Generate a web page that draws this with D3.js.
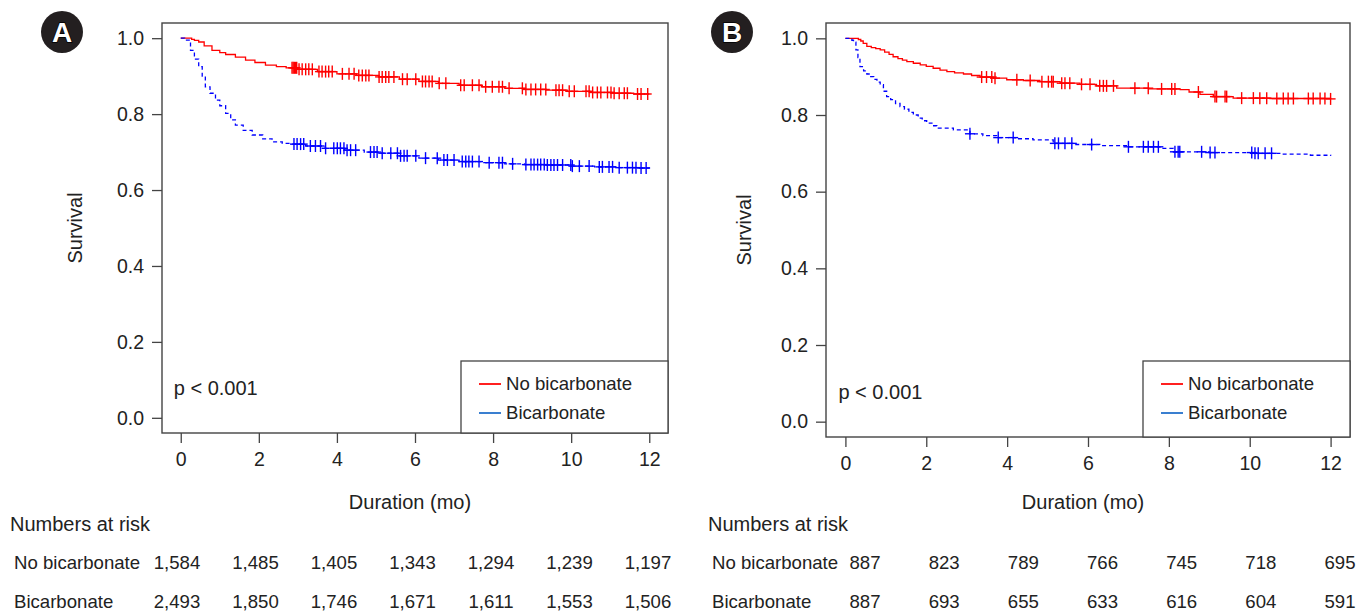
<!DOCTYPE html>
<html>
<head>
<meta charset="utf-8">
<script src="https://cdn.jsdelivr.net/npm/d3@7"></script>
<style>
  body { margin: 0; background: #fff; }
  text { font-family: "Liberation Sans", Arial, sans-serif; fill: #222; }
</style>
</head>
<body>
<script>
var width = 1362;
var height = 615;

var riskTimes = [0, 2, 4, 6, 8, 10, 12];
var xTicks = [0, 2, 4, 6, 8, 10, 12];
var yTicks = [0, 0.2, 0.4, 0.6, 0.8, 1.0];
var groups = ["No bicarbonate", "Bicarbonate"];

// panel A, no bicarbonate (step knots)
var timeA_no = [0, 0.28, 0.35, 0.46, 0.6, 0.8, 1.0, 1.15, 1.4, 1.66, 1.9, 2.17, 2.45, 2.7, 3.0, 3.5, 4.0, 4.5, 5.08, 5.6, 6.1, 6.6, 7.13, 7.7, 8.3, 8.8, 9.36, 9.9, 10.5, 11.1, 11.6, 12.0];
var survA_no = [1, 0.997, 0.994, 0.99, 0.98, 0.968, 0.962, 0.957, 0.95, 0.942, 0.936, 0.929, 0.925, 0.922, 0.918, 0.912, 0.906, 0.902, 0.898, 0.892, 0.886, 0.881, 0.876, 0.872, 0.868, 0.865, 0.863, 0.86, 0.857, 0.855, 0.853, 0.853];
var censA_no = [2.85, 2.88, 2.91, 2.94, 2.97, 3.03, 3.11, 3.20, 3.28, 3.37, 3.54, 3.62, 3.71, 3.79, 3.88, 4.14, 4.31, 4.44, 4.56, 4.65, 4.74, 4.82, 5.08, 5.16, 5.25, 5.33, 5.46, 5.68, 5.80, 6.02, 6.19, 6.27, 6.36, 6.44, 6.62, 6.79, 7.17, 7.26, 7.47, 7.64, 7.81, 7.98, 8.15, 8.24, 8.41, 8.75, 8.84, 8.97, 9.09, 9.22, 9.35, 9.61, 9.69, 9.78, 9.95, 10.08, 10.38, 10.46, 10.55, 10.67, 10.76, 10.93, 11.02, 11.10, 11.23, 11.36, 11.44, 11.70, 11.79, 11.96];

// panel A, bicarbonate
var timeA_bi = [0, 0.1, 0.25, 0.35, 0.46, 0.55, 0.63, 0.75, 0.89, 1.0, 1.15, 1.28, 1.4, 1.6, 1.83, 2.1, 2.34, 2.6, 2.85, 3.2, 3.7, 4.2, 4.7, 5.08, 5.6, 6.1, 6.6, 7.13, 7.7, 8.3, 8.8, 9.36, 10.0, 10.6, 11.2, 11.7, 12.0];
var survA_bi = [1, 0.995, 0.968, 0.945, 0.925, 0.9, 0.872, 0.855, 0.837, 0.822, 0.802, 0.785, 0.771, 0.757, 0.745, 0.735, 0.727, 0.723, 0.721, 0.716, 0.71, 0.705, 0.7, 0.697, 0.69, 0.684, 0.679, 0.675, 0.672, 0.669, 0.667, 0.666, 0.663, 0.661, 0.659, 0.658, 0.657];
var censA_bi = [2.90, 2.98, 3.07, 3.15, 3.32, 3.45, 3.58, 3.71, 3.92, 4.01, 4.09, 4.18, 4.26, 4.35, 4.48, 4.86, 4.95, 5.03, 5.16, 5.38, 5.55, 5.63, 5.72, 5.80, 6.02, 6.27, 6.57, 6.74, 6.83, 7.00, 7.21, 7.30, 7.38, 7.47, 7.64, 7.90, 8.15, 8.24, 8.50, 8.84, 8.97, 9.05, 9.14, 9.22, 9.31, 9.39, 9.48, 9.56, 9.65, 9.78, 9.99, 10.03, 10.21, 10.46, 10.72, 10.80, 10.97, 11.06, 11.23, 11.44, 11.57, 11.66, 11.79, 11.92];

// panel B, no bicarbonate
var timeB_no = [0, 0.32, 0.38, 0.44, 0.53, 0.64, 0.75, 0.86, 0.97, 1.08, 1.18, 1.3, 1.41, 1.52, 1.68, 1.85, 2.0, 2.17, 2.34, 2.51, 2.7, 2.92, 3.12, 3.33, 3.66, 3.99, 4.4, 4.81, 5.31, 5.8, 6.21, 6.71, 7.5, 8.28, 8.5, 8.77, 9.10, 9.59, 10.5, 12.0];
var survB_no = [1, 0.997, 0.993, 0.987, 0.979, 0.976, 0.973, 0.970, 0.964, 0.958, 0.952, 0.947, 0.943, 0.939, 0.935, 0.931, 0.927, 0.922, 0.917, 0.913, 0.910, 0.907, 0.903, 0.899, 0.896, 0.892, 0.890, 0.887, 0.883, 0.880, 0.876, 0.870, 0.868, 0.866, 0.860, 0.854, 0.848, 0.844, 0.843, 0.842];
var censB_no = [3.37, 3.49, 3.62, 3.70, 4.24, 4.57, 4.86, 5.02, 5.10, 5.14, 5.35, 5.43, 5.55, 5.84, 6.05, 6.29, 6.38, 6.46, 6.63, 7.16, 7.49, 7.82, 8.07, 8.15, 8.73, 9.14, 9.18, 9.39, 9.43, 9.80, 10.09, 10.25, 10.42, 10.67, 10.83, 10.95, 11.08, 11.45, 11.57, 11.74, 11.86, 12.0];

// panel B, bicarbonate
var timeB_bi = [0, 0.16, 0.2, 0.26, 0.31, 0.36, 0.45, 0.53, 0.61, 0.7, 0.78, 0.86, 0.94, 1.02, 1.12, 1.24, 1.35, 1.46, 1.57, 1.68, 1.8, 1.9, 2.01, 2.14, 2.26, 2.67, 3.08, 3.4, 3.74, 4.2, 4.64, 5.14, 5.7, 6.29, 7.0, 7.78, 8.11, 9.0, 10.09, 10.83, 11.5, 12.0];
var survB_bi = [1, 0.995, 0.99, 0.97, 0.95, 0.926, 0.915, 0.907, 0.900, 0.893, 0.886, 0.879, 0.862, 0.848, 0.840, 0.830, 0.822, 0.815, 0.807, 0.800, 0.792, 0.785, 0.779, 0.772, 0.766, 0.761, 0.751, 0.746, 0.741, 0.738, 0.735, 0.726, 0.723, 0.720, 0.717, 0.713, 0.704, 0.702, 0.700, 0.698, 0.695, 0.693];
var censB_bi = [3.08, 3.78, 4.15, 5.18, 5.27, 5.43, 5.60, 6.09, 7.00, 7.37, 7.49, 7.62, 7.74, 8.15, 8.23, 8.27, 8.81, 9.02, 9.14, 10.05, 10.13, 10.21, 10.38, 10.54];

var riskA_no = ["1,584", "1,485", "1,405", "1,343", "1,294", "1,239", "1,197"];
var riskA_bi = ["2,493", "1,850", "1,746", "1,671", "1,611", "1,553", "1,506"];
var riskB_no = ["887", "823", "789", "766", "745", "718", "695"];
var riskB_bi = ["887", "693", "655", "633", "616", "604", "591"];

var red = "#ff0000";
var blue = "#0000ff";
var tickFont = 19.5;
var titleFont = 20;
var smallFont = 18.6;

var svg = d3.select("body")
  .append("svg")
  .attr("width", width)
  .attr("height", height);

function zipCurve(times, surv) {
  return times.map(function(t, i) { return {t: t, s: surv[i]}; });
}

function survAt(times, surv, t) {
  var i = d3.bisectRight(times, t) - 1;
  if (i < 0) i = 0;
  return surv[i];
}

function drawPanel(p) {
  var x = d3.scaleLinear().domain([-0.48, 12.48]).range([p.left, p.right]);
  var y = d3.scaleLinear().domain([-0.04, 1.04]).range([p.bottom, p.top]);
  var g = svg.append("g");

  // badge
  g.append("circle")
    .attr("cx", p.badgeX).attr("cy", 32).attr("r", 21)
    .attr("fill", "#231f20");
  g.append("text")
    .attr("x", p.badgeX).attr("y", 42)
    .attr("text-anchor", "middle")
    .style("font-size", "28px")
    .style("font-weight", "bold")
    .style("fill", "#fff")
    .style("stroke", "#000")
    .style("stroke-width", "1.5px")
    .style("paint-order", "stroke")
    .text(p.label);

  // y axis
  var yAxis = g.append("g")
    .attr("transform", "translate(" + p.left + ",0)")
    .call(d3.axisLeft(y).tickValues(yTicks).tickFormat(d3.format(".1f")).tickSize(10).tickPadding(8));
  yAxis.select(".domain").remove();
  yAxis.selectAll("line").attr("stroke", "#444").attr("stroke-width", 1.3);
  yAxis.selectAll("text").style("font-size", tickFont + "px").style("font-family", "Liberation Sans, Arial, sans-serif").attr("fill", "#222");

  // x axis
  var xAxis = g.append("g")
    .attr("transform", "translate(0," + p.bottom + ")")
    .call(d3.axisBottom(x).tickValues(xTicks).tickFormat(d3.format("d")).tickSize(10).tickPadding(9));
  xAxis.select(".domain").remove();
  xAxis.selectAll("line").attr("stroke", "#444").attr("stroke-width", 1.3);
  xAxis.selectAll("text").style("font-size", tickFont + "px").style("font-family", "Liberation Sans, Arial, sans-serif").attr("fill", "#222");

  // frame
  g.append("rect")
    .attr("x", p.left).attr("y", p.top)
    .attr("width", p.right - p.left).attr("height", p.bottom - p.top)
    .attr("fill", "none").attr("stroke", "#444").attr("stroke-width", 1.4);

  // titles
  g.append("text")
    .attr("transform", "translate(" + p.survX + "," + ((p.top + p.bottom) / 2) + ") rotate(-90)")
    .attr("text-anchor", "middle")
    .style("font-size", titleFont + "px")
    .text("Survival");
  g.append("text")
    .attr("x", x(6) - 5).attr("y", 509)
    .attr("text-anchor", "middle")
    .style("font-size", titleFont + "px")
    .text("Duration (mo)");
  g.append("text")
    .attr("x", x(0) - 7).attr("y", y(0) - 23)
    .style("font-size", titleFont + "px")
    .text("p < 0.001");

  // curves
  var line = d3.line()
    .x(function(d) { return x(d.t); })
    .y(function(d) { return y(d.s); })
    .curve(d3.curveStepAfter);

  p.curves.forEach(function(c) {
    g.append("path")
      .datum(zipCurve(c.times, c.surv))
      .attr("d", line)
      .attr("fill", "none")
      .attr("stroke", c.color)
      .attr("stroke-width", 1.3)
      .attr("stroke-dasharray", c.dash);

    var marks = g.selectAll(null)
      .data(c.cens)
      .enter()
      .append("g")
      .attr("transform", function(t) {
        return "translate(" + x(t) + "," + y(survAt(c.times, c.surv, t)) + ")";
      });
    marks.append("line")
      .attr("x1", 0).attr("x2", 0).attr("y1", -p.markH).attr("y2", p.markH)
      .attr("stroke", c.color).attr("stroke-width", 1.4);
    marks.append("line")
      .attr("x1", -p.markW).attr("x2", p.markW).attr("y1", 0).attr("y2", 0)
      .attr("stroke", c.color).attr("stroke-width", 1.4);
  });

  // legend
  var lg = g.append("g");
  lg.append("rect")
    .attr("x", p.legX).attr("y", 361)
    .attr("width", p.right - p.legX).attr("height", p.bottom - 361)
    .attr("fill", "#fff").attr("stroke", "#444").attr("stroke-width", 1.3);
  var legColors = ["#ff2020", "#3a7fd0"];
  groups.forEach(function(name, i) {
    var ly = 384 + i * 29;
    lg.append("line")
      .attr("x1", p.legX + 18).attr("x2", p.legX + 40)
      .attr("y1", ly).attr("y2", ly)
      .attr("stroke", legColors[i]).attr("stroke-width", 2);
    lg.append("text")
      .attr("x", p.legX + 45).attr("y", ly + 6)
      .style("font-size", smallFont + "px")
      .text(name);
  });

  // numbers at risk
  var rx = p.riskScale || x;
  g.append("text")
    .attr("x", p.tableX).attr("y", 531)
    .style("font-size", titleFont + "px")
    .text("Numbers at risk");
  [p.riskNo, p.riskBi].forEach(function(row, r) {
    var ry = 569 + r * 39;
    g.append("text")
      .attr("x", p.tableX + 4).attr("y", ry)
      .style("font-size", smallFont + "px")
      .text(groups[r]);
    g.selectAll(null)
      .data(row)
      .enter()
      .append("text")
      .attr("x", function(d, i) { return rx(riskTimes[i]); })
      .attr("y", ry)
      .attr("text-anchor", "middle")
      .style("font-size", smallFont + "px")
      .text(function(d) { return d; });
  });
}

drawPanel({
  label: "A", badgeX: 62, survX: 82,
  left: 162, right: 668, top: 23, bottom: 433,
  legX: 461, tableX: 10, markH: 6, markW: 4,
  riskScale: d3.scaleLinear().domain([0, 12]).range([177, 648]),
  curves: [
    {times: timeA_no, surv: survA_no, cens: censA_no, color: red, dash: null},
    {times: timeA_bi, surv: survA_bi, cens: censA_bi, color: blue, dash: "4,3"}
  ],
  riskNo: riskA_no, riskBi: riskA_bi
});

drawPanel({
  label: "B", badgeX: 732, survX: 751,
  left: 826, right: 1350, top: 23, bottom: 437,
  legX: 1143, tableX: 708, markH: 6, markW: 5,
  riskScale: d3.scaleLinear().domain([0, 12]).range([865, 1340]),
  curves: [
    {times: timeB_no, surv: survB_no, cens: censB_no, color: red, dash: null},
    {times: timeB_bi, surv: survB_bi, cens: censB_bi, color: blue, dash: "4,3"}
  ],
  riskNo: riskB_no, riskBi: riskB_bi
});
</script>
</body>
</html>
